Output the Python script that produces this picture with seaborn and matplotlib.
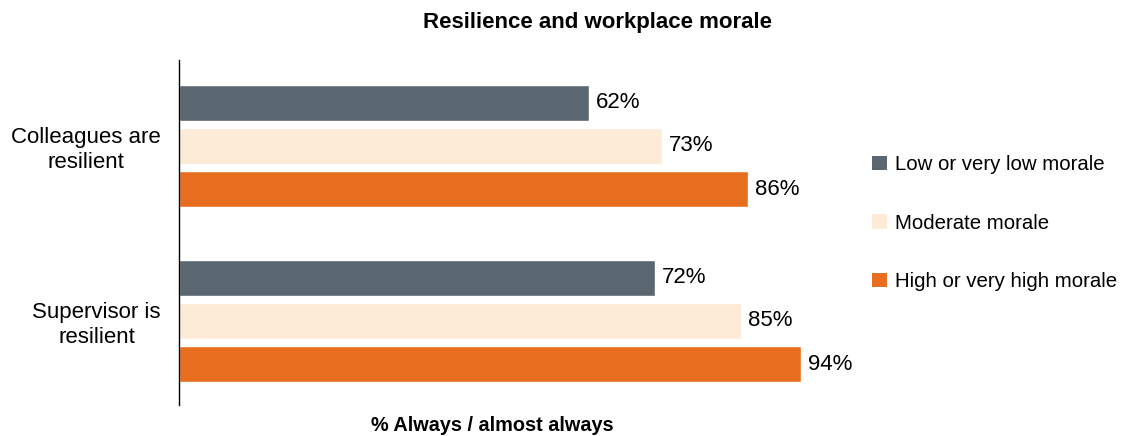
import matplotlib
matplotlib.use("Agg")
import matplotlib.pyplot as plt
from matplotlib.patches import Patch
import seaborn as sns
import pandas as pd

categories = ["Colleagues are\nresilient", "Supervisor is\nresilient"]
groups = ["Low or very low morale", "Moderate morale", "High or very high morale"]
low_vals = [62, 72]
moderate_vals = [73, 85]
high_vals = [86, 94]
colors = ["#5B6770", "#FDEAD7", "#E86E1F"]

sns.set_theme(style="white")
plt.rcParams["font.family"] = ["Liberation Sans", "DejaVu Sans"]
plt.rcParams["text.color"] = "black"
plt.rcParams["axes.labelcolor"] = "black"
plt.rcParams["ytick.color"] = "black"

rows = []
for g, vals in zip(groups, [low_vals, moderate_vals, high_vals]):
    for c, v in zip(categories, vals):
        rows.append({"category": c, "group": g, "value": v})
df = pd.DataFrame(rows)

fig = plt.figure(figsize=(11.21, 4.36), dpi=100)
ax = fig.add_axes([0.1597, 0.0711, 0.590, 0.791])

sns.barplot(data=df, y="category", x="value", hue="group", order=categories,
            hue_order=groups, palette=colors, orient="h", width=0.74, gap=0.16,
            saturation=1, legend=False, ax=ax)

for cont in ax.containers:
    ax.bar_label(cont, labels=[f"{v:.0f}%" for v in cont.datavalues],
                 padding=5, fontsize=16, color="black")

ax.set_xlim(0, 100)
ax.set_ylim(1.48, -0.49)
for s in ["top", "right", "bottom"]:
    ax.spines[s].set_visible(False)
ax.spines["left"].set_color("black")
ax.spines["left"].set_linewidth(1.0)
ax.set_xticks([])
ax.set_ylabel("")
ax.set_xlabel("% Always / almost always", fontsize=14.3, fontweight="bold",
              labelpad=8, x=0.473)
ax.tick_params(axis="y", length=0, pad=13, labelsize=16)
for lab in ax.get_yticklabels():
    lab.set_multialignment("center")

fig.text(0.533, 0.948, "Resilience and workplace morale", ha="center", va="center",
         fontsize=16, fontweight="bold")

handles = [Patch(facecolor=c, edgecolor="none") for c in colors]
fig.legend(handles, groups, loc="center left", bbox_to_anchor=(0.778, 0.488),
           frameon=False, fontsize=14.7, handlelength=0.72, handleheight=0.72,
           handletextpad=0.4, labelspacing=1.94, borderpad=0, borderaxespad=0)

fig.savefig("out.png", dpi=100)
